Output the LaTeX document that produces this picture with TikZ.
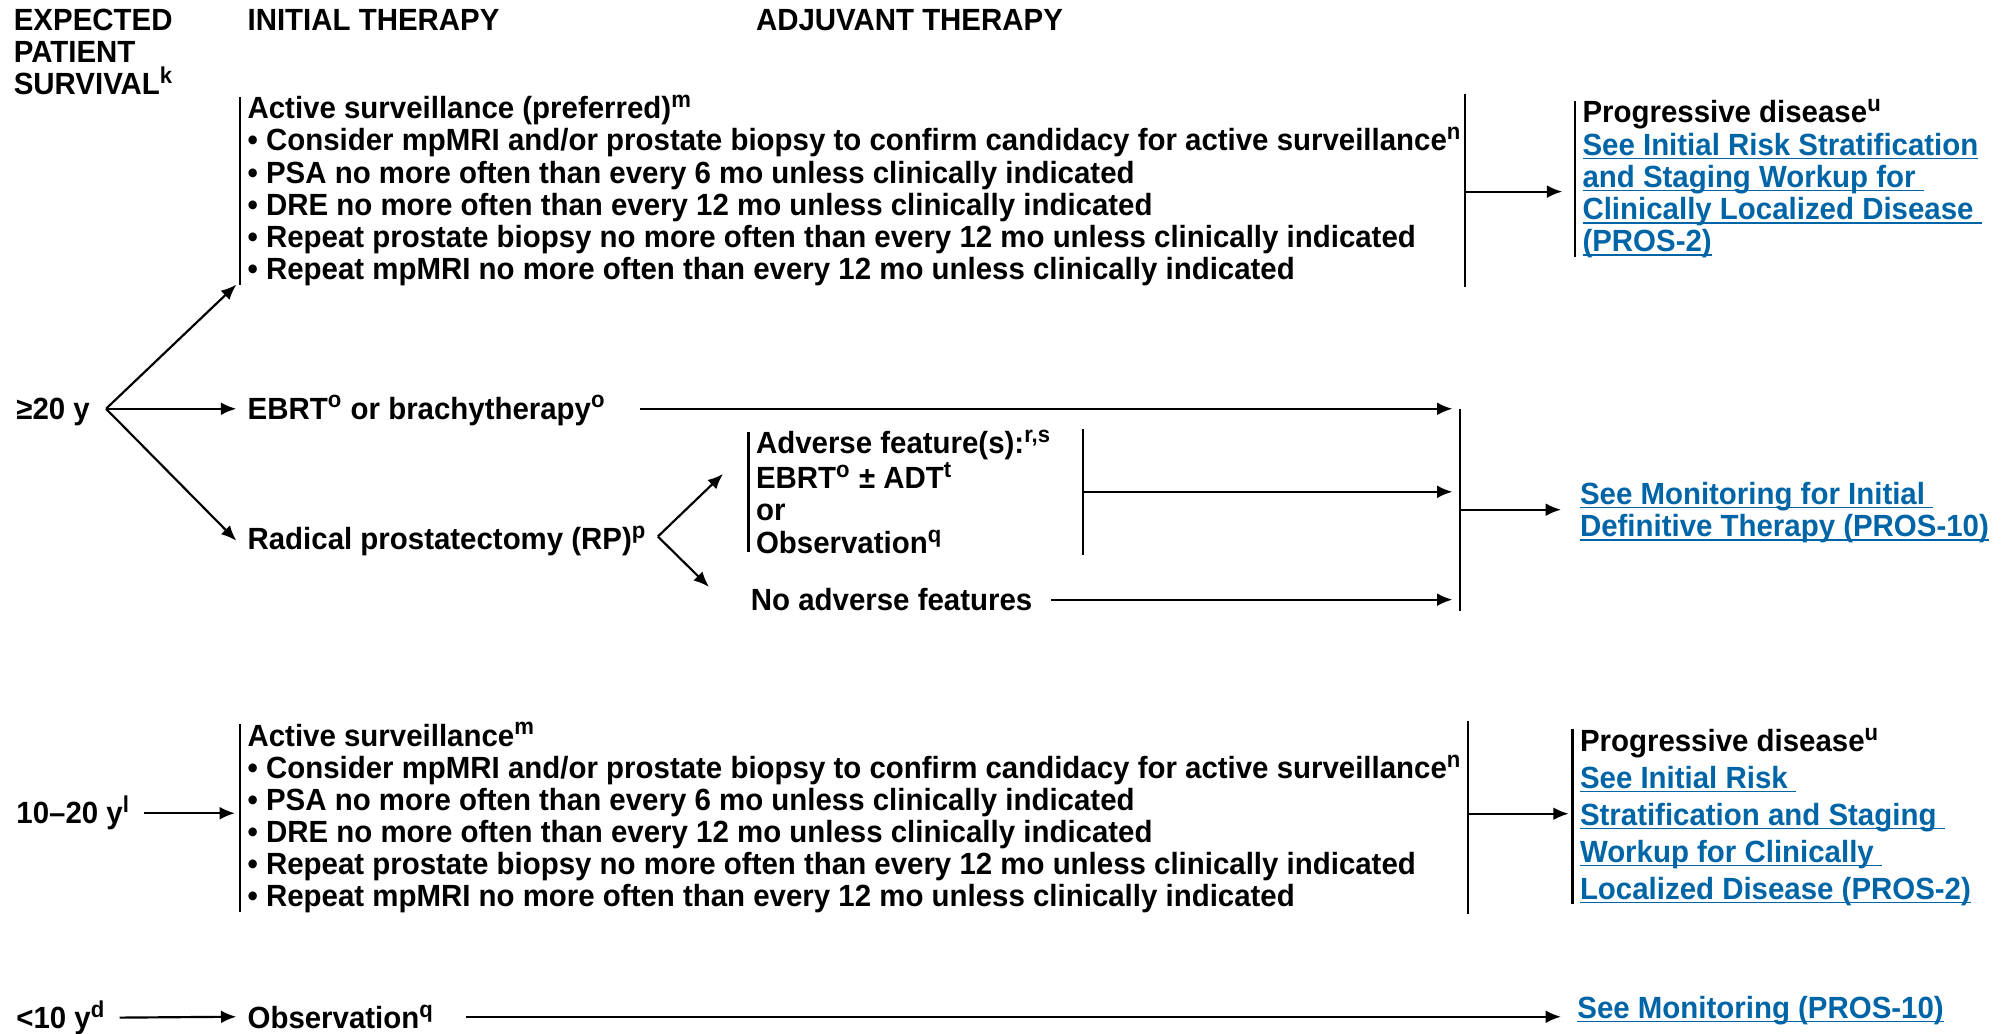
\documentclass[tikz,border=0pt]{standalone}
\usepackage{fontspec}
\setmainfont{Liberation Sans}[FakeStretch=0.96]
\usepackage{xcolor}
\usetikzlibrary{positioning,arrows.meta,calc}
\definecolor{linkblue}{RGB}{0,101,166}
\newcommand\sps[1]{\textsuperscript{\fontsize{9}{9}\selectfont #1}}
\newcommand\lnk[1]{\textcolor{linkblue}{\setbox0\hbox{#1}\rlap{\rule[-1.6pt]{\wd0}{0.6pt}}\box0}}

\begin{document}
\begin{tikzpicture}[x=0.5pt,y=-0.5pt,>={Latex[length=6pt,width=5pt]},
  font=\bfseries\fontsize{12}{12.6}\selectfont,line width=0.85pt,
  txt/.style={anchor=base west,inner sep=0pt,align=left},
  blk/.style={txt,inner xsep=2.5pt}]
\useasboundingbox (0,0) rectangle (1568,809);
% column heads (multi-line nodes sit on their last line)
\node[txt] (hsurv) at (10,74) {EXPECTED\\PATIENT\\SURVIVAL\sps{k}};
\node[txt] (hinit) at (193,24) {INITIAL THERAPY};
\node[txt] (hadj) at (591,24) {ADJUVANT THERAPY};

% >=20 y
\node[txt] (ge20) at (12,328) {≥20 y};
\coordinate (f1) at (83,320);
\node[blk] (as1) at (188,219) {Active surveillance (preferred)\sps{m}\\
  • Consider mpMRI and/or prostate biopsy to confirm candidacy for active surveillance\sps{n}\\
  • PSA no more often than every 6 mo unless clinically indicated\\
  • DRE no more often than every 12 mo unless clinically indicated\\
  • Repeat prostate biopsy no more often than every 12 mo unless clinically indicated\\
  • Repeat mpMRI no more often than every 12 mo unless clinically indicated};
\node[blk] (prog1) at (1233,197) {Progressive disease\sps{u}\\
  \lnk{See Initial Risk Stratification}\\
  \lnk{and Staging Workup for }\\
  \lnk{Clinically Localized Disease }\\
  \lnk{(PROS-2)}};
\node[txt] (ebrt) at (193,328) {EBRT\sps{o} or brachytherapy\sps{o}};
\node[txt] (rp) at (193,430) {Radical prostatectomy (RP)\sps{p}};
\coordinate (f2) at (515,420);
\node[blk] (adv) at (586,433) {Adverse feature(s):\sps{r,s}\\EBRT\sps{o} ± ADT\sps{t}\\or\\Observation\sps{q}};
\node[txt] (nadv) at (587,478) {No adverse features};
\node[txt] (mon1) at (1236,420) {\lnk{See Monitoring for Initial }\\\lnk{Definitive Therapy (PROS-10)}};
\coordinate (as1r) at (1147,150);
\coordinate (advr) at (848,385);
\coordinate (jn) at (1143,399);

\draw ([yshift=-1pt]as1.north west) -- ([yshift=1pt]as1.south west);
\draw (as1r |- as1.north) -- (as1r |- as1.south);
\draw[->] (as1r) -- ($(prog1.west |- as1r)+(-5pt,0)$);
\draw ([yshift=-1pt]prog1.north west) -- ([yshift=1pt]prog1.south west);
\draw[->] (f1) -- ($(as1.south west)+(-1.5pt,1pt)$);
\draw[->] (f1) -- ($(ebrt.west |- f1)+(-4pt,0)$);
\draw[->] (f1) -- ($(rp.west)+(-4pt,0)$);
\draw[->] ($(ebrt.east |- f1)+(13pt,0)$) -- ($(jn |- f1)+(-3pt,0)$);
\draw[->] (f2) -- ($(adv.west)+(-10pt,7pt)$);
\draw[->] (f2) -- ($(nadv.west)+(-16pt,5pt)$);
\draw ([yshift=-1pt]adv.north west) -- ([yshift=1pt]adv.south west);
\draw (advr |- adv.north) -- (advr |- adv.south);
\draw[->] (advr) -- ($(jn |- advr)+(-3pt,0)$);
\draw[->] ($(nadv.east)+(7pt,0)$) -- ($(jn |- nadv.east)+(-3pt,0)$);
\draw (jn |- f1) -- (jn |- nadv.base);
\draw[->] (jn) -- ($(mon1.west |- jn)+(-7pt,0)$);

% 10-20 y
\node[txt] (ge10) at (12,645) {10–20 y\sps{l}};
\node[blk] (as2) at (188,710) {Active surveillance\sps{m}\\
  • Consider mpMRI and/or prostate biopsy to confirm candidacy for active surveillance\sps{n}\\
  • PSA no more often than every 6 mo unless clinically indicated\\
  • DRE no more often than every 12 mo unless clinically indicated\\
  • Repeat prostate biopsy no more often than every 12 mo unless clinically indicated\\
  • Repeat mpMRI no more often than every 12 mo unless clinically indicated};
\node[blk,font=\bfseries\fontsize{12}{14.5}\selectfont] (prog2) at (1231,704) {Progressive disease\sps{u}\\
  \lnk{See Initial Risk }\\
  \lnk{Stratification and Staging }\\
  \lnk{Workup for Clinically }\\
  \lnk{Localized Disease (PROS-2)}};
\coordinate (as2r) at (1149,637);
\draw[->] ($(ge10.east)+(5pt,0)$) -- ($(as2.west |- ge10.east)+(-2pt,0)$);
\draw ([yshift=-1pt]as2.north west) -- ([yshift=1pt]as2.south west);
\draw (as2r |- as2.north) -- (as2r |- as2.south);
\draw[->] (as2r) -- ($(prog2.west |- as2r)+(-1.5pt,0)$);
\draw ([yshift=-1pt]prog2.north west) -- ([yshift=1pt]prog2.south west);

% <10 y
\node[txt] (lt10) at (12,805) {<10 y\sps{d}};
\node[txt] (obs) at (193,805) {Observation\sps{q}};
\node[txt] (mon2) at (1234,797) {\lnk{See Monitoring (PROS-10)}};
\draw[->] ($(lt10.east)+(5pt,0)$) -- ($(obs.west)+(-4pt,0)$);
\draw[->] ($(obs.east)+(12pt,0)$) -- ($(mon2.west |- obs.east)+(-6pt,0)$);
\end{tikzpicture}
\end{document}
